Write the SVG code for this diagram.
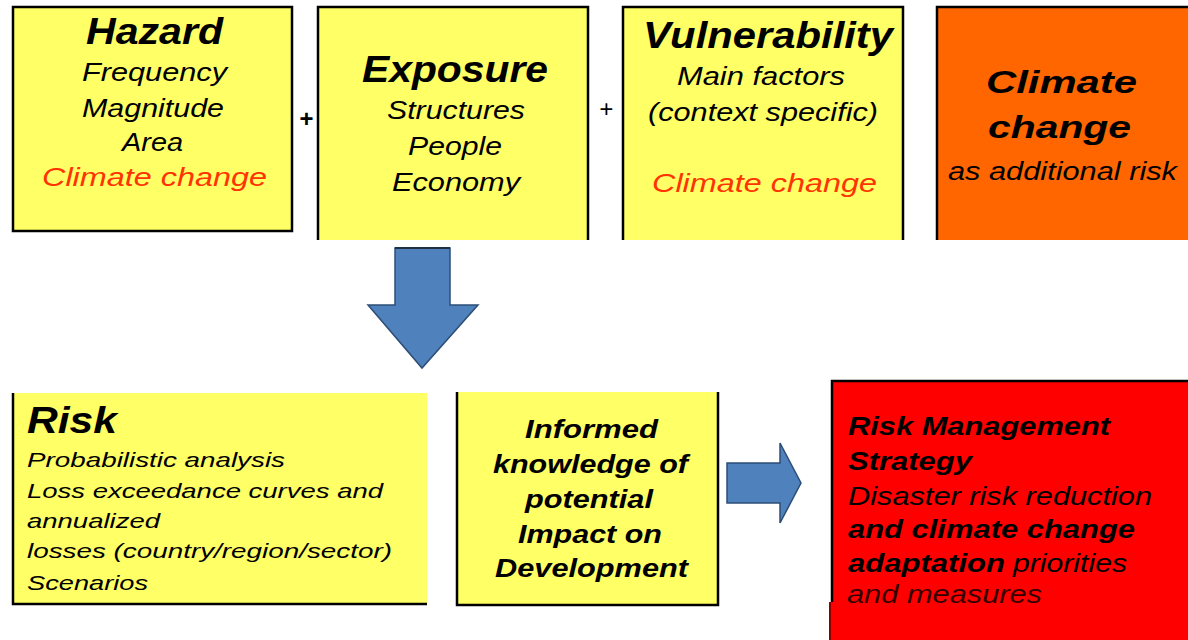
<svg xmlns="http://www.w3.org/2000/svg" width="1188" height="640" viewBox="0 0 1188 640">
<defs>
<style>
.t{font-family:"Liberation Sans",Arial,sans-serif;font-style:italic;fill:#000}
.b{font-weight:bold}
.h{font-size:36px}
.s{font-size:25px}
.r{font-size:21px}
.o{font-size:32px}
.red{fill:#ff3300}
.yel{fill:#ffff66}
.bd{fill:none;stroke:#000;stroke-width:2.5}
.arrow{fill:#4f81bd;stroke:#2c4d75;stroke-width:1.5}
</style>
</defs>
<rect width="1188" height="640" fill="#fff"/>

<g id="hazard">
<rect x="13" y="7" width="279" height="224" class="yel"/>
<rect x="13" y="7" width="279" height="224" class="bd"/>
<text class="t b h" x="86" y="44" textLength="137" lengthAdjust="spacingAndGlyphs">Hazard</text>
<text class="t s" x="82" y="81" textLength="145" lengthAdjust="spacingAndGlyphs">Frequency</text>
<text class="t s" x="82" y="117" textLength="142" lengthAdjust="spacingAndGlyphs">Magnitude</text>
<text class="t s" x="122" y="151" textLength="61" lengthAdjust="spacingAndGlyphs">Area</text>
<text class="t s red" x="42" y="186" textLength="225" lengthAdjust="spacingAndGlyphs">Climate change</text>
</g>

<g id="exposure">
<rect x="318" y="7" width="270" height="233" class="yel"/>
<path d="M318,240 V7 H588 V240" class="bd"/>
<text class="t b h" x="362" y="82" textLength="186" lengthAdjust="spacingAndGlyphs">Exposure</text>
<text class="t s" x="387" y="119" textLength="138" lengthAdjust="spacingAndGlyphs">Structures</text>
<text class="t s" x="408" y="155" textLength="94" lengthAdjust="spacingAndGlyphs">People</text>
<text class="t s" x="392" y="191" textLength="128" lengthAdjust="spacingAndGlyphs">Economy</text>
</g>

<g id="vulnerability">
<rect x="623" y="7" width="280" height="233" class="yel"/>
<path d="M623,240 V7 H903 V240" class="bd"/>
<text class="t b h" x="643" y="48" textLength="250" lengthAdjust="spacingAndGlyphs">Vulnerability</text>
<text class="t s" x="677" y="85" textLength="168" lengthAdjust="spacingAndGlyphs">Main factors</text>
<text class="t s" x="648" y="121" textLength="230" lengthAdjust="spacingAndGlyphs">(context specific)</text>
<text class="t s red" x="652" y="192" textLength="225" lengthAdjust="spacingAndGlyphs">Climate change</text>
</g>

<g id="climate-change">
<rect x="937" y="7" width="251" height="233" fill="#ff6600"/>
<path d="M937,240 V7 H1188" class="bd"/>
<text class="t b o" x="986" y="93" textLength="151" lengthAdjust="spacingAndGlyphs">Climate</text>
<text class="t b o" x="988" y="138" textLength="143" lengthAdjust="spacingAndGlyphs">change</text>
<text class="t s" x="948" y="180" textLength="229" lengthAdjust="spacingAndGlyphs">as additional risk</text>
</g>

<g id="operators">
<text class="t b" font-size="24" x="306" y="127" text-anchor="middle">+</text>
<text class="t" font-size="24" x="606" y="117" text-anchor="middle">+</text>
</g>

<g id="risk">
<rect x="13" y="393" width="414" height="211" class="yel"/>
<path d="M13,393 V604 H427" class="bd"/>
<text class="t b h" x="27" y="433" textLength="90" lengthAdjust="spacingAndGlyphs">Risk</text>
<text class="t r" x="27" y="467" textLength="258" lengthAdjust="spacingAndGlyphs">Probabilistic analysis</text>
<text class="t r" x="27" y="498" textLength="356" lengthAdjust="spacingAndGlyphs">Loss exceedance curves and</text>
<text class="t r" x="27" y="528" textLength="133" lengthAdjust="spacingAndGlyphs">annualized</text>
<text class="t r" x="27" y="558" textLength="365" lengthAdjust="spacingAndGlyphs">losses (country/region/sector)</text>
<text class="t r" x="27" y="590" textLength="121" lengthAdjust="spacingAndGlyphs">Scenarios</text>
</g>

<g id="informed-knowledge">
<rect x="457" y="392" width="261" height="213" class="yel"/>
<path d="M457,392 V605 H718 V392" class="bd"/>
<text class="t b s" x="525" y="438" textLength="133" lengthAdjust="spacingAndGlyphs">Informed</text>
<text class="t b s" x="493" y="473" textLength="195" lengthAdjust="spacingAndGlyphs">knowledge of</text>
<text class="t b s" x="525" y="508" textLength="128" lengthAdjust="spacingAndGlyphs">potential</text>
<text class="t b s" x="518" y="543" textLength="144" lengthAdjust="spacingAndGlyphs">Impact on</text>
<text class="t b s" x="495" y="577" textLength="193" lengthAdjust="spacingAndGlyphs">Development</text>
</g>

<g id="risk-management-strategy">
<rect x="832" y="381" width="356" height="259" fill="#ff0000"/>
<rect x="829" y="602" width="5" height="38" fill="#ff0000"/>
<path d="M832,602 V381 H1188" class="bd"/>
<path d="M830,640 V602" fill="none" stroke="#600" stroke-width="1.5"/>
<text class="t b s" x="848" y="435" textLength="262" lengthAdjust="spacingAndGlyphs">Risk Management</text>
<text class="t b s" x="848" y="470" textLength="124" lengthAdjust="spacingAndGlyphs">Strategy</text>
<text class="t s" x="848" y="505" textLength="304" lengthAdjust="spacingAndGlyphs">Disaster risk reduction</text>
<text class="t b s" x="848" y="538" textLength="287" lengthAdjust="spacingAndGlyphs">and climate change</text>
<text class="t b s" x="848" y="572" textLength="157" lengthAdjust="spacingAndGlyphs">adaptation</text>
<text class="t s" x="1013" y="572" textLength="114" lengthAdjust="spacingAndGlyphs">priorities</text>
<text class="t s" x="847" y="603" textLength="195" lengthAdjust="spacingAndGlyphs" opacity="0.8">and measures</text>
</g>

<g id="connectors">
<polygon class="arrow" points="395,248 450,248 450,305 478,305 422,368 368,305 395,305"/>
<line x1="395" y1="248" x2="450" y2="248" stroke="#1f2f45" stroke-width="2"/>
<polygon class="arrow" points="727,463 780,463 780,443 801,483 780,523 780,503 727,503"/>
</g>
</svg>
